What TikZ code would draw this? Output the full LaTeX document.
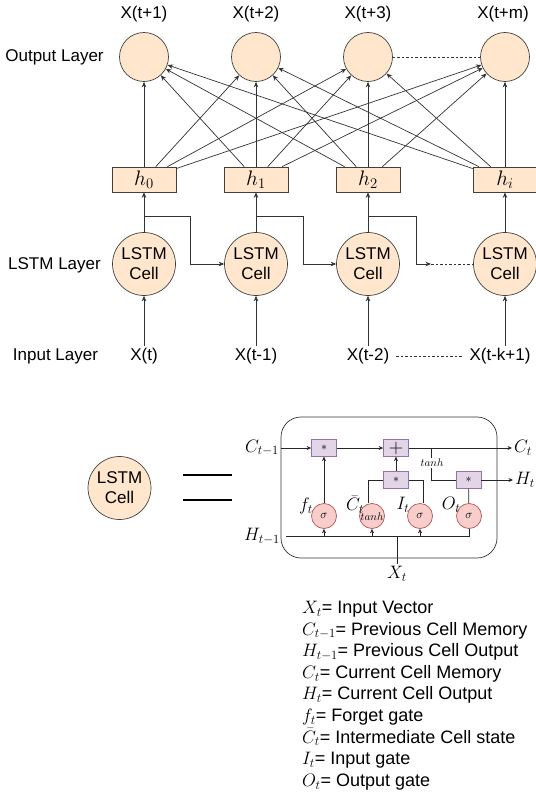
\RequirePackage{fix-cm}
\documentclass[tikz,border=0pt]{standalone}
\usepackage[no-math]{fontspec}
\setmainfont{Liberation Sans}
\usetikzlibrary{arrows.meta}
\definecolor{peachc}{HTML}{FFE6CC}
\definecolor{purpf}{HTML}{E1D5E7}
\definecolor{purpd}{HTML}{9673A6}
\definecolor{redf}{HTML}{F8CECC}
\definecolor{redd}{HTML}{B85450}
\definecolor{linec}{HTML}{333333}
\begin{document}
\begin{tikzpicture}[x=1pt,y=-1pt,
  txt/.style={font=\fontsize{17}{20}\selectfont, inner sep=2pt},
  outc/.style={circle, draw=black!75, fill=peachc, minimum size=49pt, inner sep=0pt, line width=0.7pt},
  cellc/.style={circle, draw=black!75, fill=peachc, minimum size=63pt, inner sep=0pt, line width=0.7pt, align=center, font=\fontsize{17}{20}\selectfont},
  hbox/.style={rectangle, draw=black!75, fill=peachc, minimum width=64pt, minimum height=25pt, inner sep=0pt, line width=0.7pt, font=\fontsize{21}{22}\selectfont},
  arr/.style={draw=linec, line width=0.7pt, -{Stealth[length=5.5pt,width=4.5pt]}},
  ln/.style={draw=linec, line width=0.7pt},
  dsh/.style={draw=linec, line width=0.7pt, dash pattern=on 2.5pt off 2pt},
  carr/.style={draw=black!85, line width=0.7pt, -{Stealth[length=4.5pt,width=4pt]}},
  cln/.style={draw=black!85, line width=0.7pt},
  mbox/.style={rectangle, draw=purpd, fill=purpf, minimum width=25pt, minimum height=16.5pt, inner sep=0pt, line width=0.7pt, font=\fontsize{12}{12}\selectfont},
  sig/.style={circle, draw=redd, fill=redf, minimum size=25pt, inner sep=0pt, line width=0.7pt, font=\fontsize{12}{12}\selectfont},
  mth/.style={font=\fontsize{18}{20}\selectfont, inner sep=2pt},
  smallm/.style={font=\fontsize{11}{12}\selectfont, inner sep=1pt},
  leg/.style={font=\fontsize{18}{21}\selectfont, anchor=base west, inner sep=0pt}
]
\useasboundingbox (0,0) rectangle (535,794);

% ---------- layer labels ----------
\node[txt] (lo) at (54.5,57) {Output Layer};
\node[txt] (ll) at (54.5,265) {LSTM Layer};
\node[txt] (lin) at (55.5,356) {Input Layer};

% ---------- output labels ----------
\node[txt] (y1) at (144,14) {X(t+1)};
\node[txt] (y2) at (256,14) {X(t+2)};
\node[txt] (y3) at (368,14) {X(t+3)};
\node[txt] (y4) at (503,14) {X(t+m)};

% ---------- output circles ----------
\node[outc] (o1) at (144,57) {};
\node[outc] (o2) at (256,57) {};
\node[outc] (o3) at (368,57) {};
\node[outc] (o4) at (505,57) {};

% ---------- hidden boxes ----------
\node[hbox] (h0) at (144,179.5) {$h_0$};
\node[hbox] (h1) at (256,179.5) {$h_1$};
\node[hbox] (h2) at (368,179.5) {$h_2$};
\node[hbox] (hi) at (505,179.5) {$h_i$};

% ---------- LSTM cells ----------
\node[cellc] (c1) at (144,264) {LSTM\\Cell};
\node[cellc] (c2) at (256,264) {LSTM\\Cell};
\node[cellc] (c3) at (368,264) {LSTM\\Cell};
\node[cellc] (c4) at (505,264) {LSTM\\Cell};

% ---------- inputs ----------
\node[txt] (x1) at (144,356) {X(t)};
\node[txt] (x2) at (256,356) {X(t-1)};
\node[txt] (x3) at (368,356) {X(t-2)};
\node[txt] (x4) at (500,356) {X(t-k+1)};

% full connections
\foreach \h in {h0,h1,h2,hi}{
  \foreach \o in {o1,o2,o3,o4}{
    \draw[arr] (\h) -- (\o);
  }
}
\draw[dsh] (o3) -- (o4);

% cells to hidden
\draw[arr] (c1) -- (h0);
\draw[arr] (c2) -- (h1);
\draw[arr] (c3) -- (h2);
\draw[arr] (c4) -- (hi);

% inputs to cells
\draw[arr] (x1) -- (c1);
\draw[arr] (x2) -- (c2);
\draw[arr] (x3) -- (c3);
\draw[arr] (x4.north -| c4) -- (c4);
\draw[dsh, shorten <=5pt, shorten >=4pt] (x3) -- (x4);

% recurrent
\coordinate (r1) at (144,216);
\coordinate (r2) at (256,216);
\coordinate (r3) at (368,216);
\coordinate (d3) at (431,264);
\draw[arr] (r1) -- ++(46.7,0) |- (c2.west);
\draw[arr] (r2) -- ++(47.8,0) |- (c3.west);
\draw[arr] (r3) -- ++(48,0) |- (d3);
\draw[dsh] (d3) -- (c4.west);

% ---------- bottom: LSTM cell = ----------
\node[cellc] (bc) at (119.5,488) {LSTM\\Cell};
\draw[black, line width=1.6pt] (183,475) -- (231.7,475);
\draw[black, line width=1.6pt] (183,500) -- (231.7,500);

% ---------- cell diagram ----------
\node[draw=black!80, line width=0.7pt, rounded corners=20pt, minimum width=216pt, minimum height=141pt, inner sep=0pt] (cbox) at (389,487.5) {};

\node[mbox] (m1) at (324,448) {$*$};
\node[mbox, font=\fontsize{20}{20}\selectfont] (pl) at (396,448) {$+$};
\node[mbox] (m2) at (396,480) {$*$};
\node[mbox] (m3) at (468.5,480) {$*$};

\node[sig] (s1) at (324,516) {$\sigma$};
\node[sig] (s2) at (372,516) {};
\node[sig] (s3) at (420,516) {$\sigma$};
\node[sig] (s4) at (469,516) {$\sigma$};
\node[smallm] (s2t) at (372,517) {$tanh$};

\node[mth] (lcp) at (262,448) {$C_{t-1}$};
\node[mth, anchor=west] (lct) at (512,448) {$C_t$};
\node[mth, anchor=west] (lht) at (513,480) {$H_t$};
\node[mth] (lhp) at (262,536.7) {$H_{t-1}$};
\node[mth] (lxt) at (397,574) {$X_t$};
\node[mth] (lf) at (306,506) {$f_t$};
\node[mth] (lcb) at (355,505) {$\bar{C}_t$};
\node[mth] (lit) at (403,505) {$I_t$};
\node[mth] (lot) at (451,505) {$O_t$};

\coordinate (tb) at (431.7,448);
\coordinate (hl) at (286,536.7);

\draw[carr] (lcp.east |- m1) -- (m1);
\draw[carr] (m1) -- (pl);
\draw[carr] (pl) -- (lct.west |- pl);
\draw[cln] (tb) -- (431.7,480) -- (m3.west);
\node[smallm, fill=white] (tnh) at (432,463) {$tanh$};
\draw[carr] (m3) -- (lht.west |- m3);
\draw[carr] (s1) -- (m1);
\draw[carr] (m2) -- (pl);
\draw[cln] ([xshift=-4pt]s2.north) |- (m2.west);
\draw[cln] ([xshift=3pt]s3.north) |- (m2.east);
\draw[cln] (s4) -- (m3);
\draw[cln] (hl) -| (s4.south);
\draw[carr] (s1.south |- hl) -- (s1.south);
\draw[carr] (s2.south |- hl) -- (s2.south);
\draw[carr] (s3.south |- hl) -- (s3.south);
\draw[cln] (lxt.north) -- (lxt.north |- hl);

% ---------- legend ----------
\node[leg] (g1) at (302,613.5) {$X_t$= Input Vector};
\node[leg] (g2) at (302,635.1) {$C_{t-1}$= Previous Cell Memory};
\node[leg] (g3) at (302,656.7) {$H_{t-1}$= Previous Cell Output};
\node[leg] (g4) at (302,678.3) {$C_t$= Current Cell Memory};
\node[leg] (g5) at (302,699.9) {$H_t$= Current Cell Output};
\node[leg] (g6) at (302,721.5) {$f_t$= Forget gate};
\node[leg] (g7) at (302,743.1) {$\bar{C}_t$= Intermediate Cell state};
\node[leg] (g8) at (302,764.7) {$I_t$= Input gate};
\node[leg] (g9) at (302,786.3) {$O_t$= Output gate};
\end{tikzpicture}
\end{document}
